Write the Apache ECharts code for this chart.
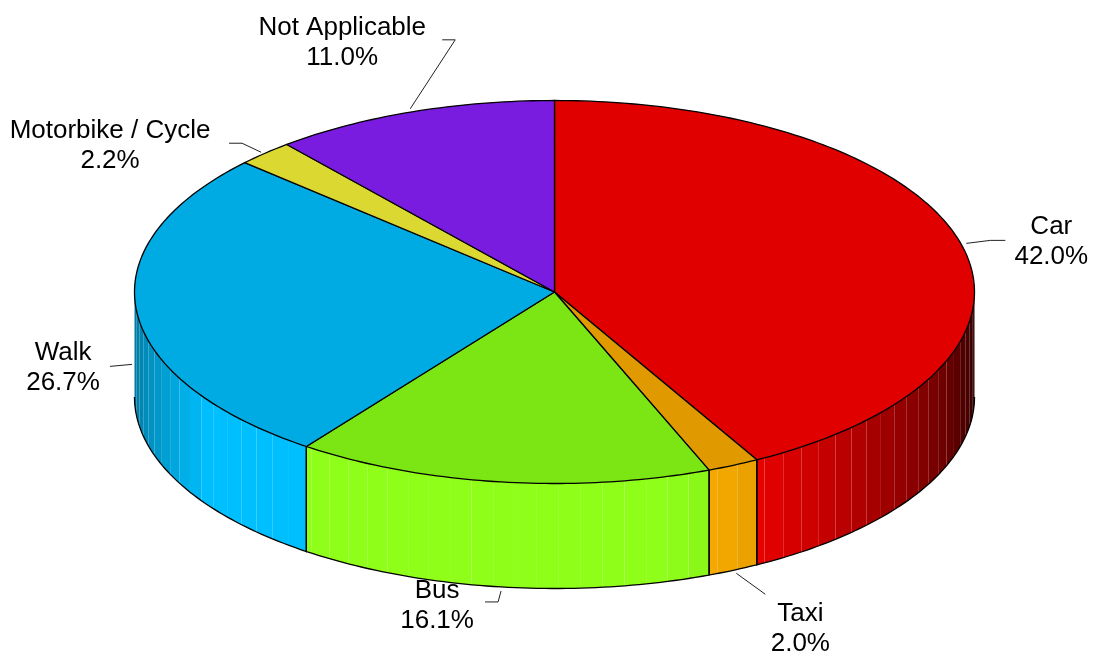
<!DOCTYPE html>
<html>
<head>
<meta charset="utf-8">
<style>html,body{margin:0;padding:0;background:#fff}#c{width:1096px;height:657px}</style>
<script src="https://cdn.jsdelivr.net/npm/echarts@6/dist/echarts.min.js"></script>
</head>
<body>
<div id="c"></div>
<script>
// ---- data ----
const categories = ['Car', 'Taxi', 'Bus', 'Walk', 'Motorbike / Cycle', 'Not Applicable'];
const shares = [42.0, 2.0, 16.06, 26.74, 2.2, 11.0];

// ---- styles ----
const topColors = ['#E00000', '#E09A00', '#7CE614', '#00ABE3', '#DCD832', '#7A1BE0'];
const rimColors = [[255, 0, 0], [255, 176, 0], [143, 255, 26], [0, 191, 255], [255, 250, 58], [140, 31, 255]];
// Brightness of the rim by ellipse angle (degrees clockwise from the top)
const shadeStops = [[90, .15], [150, .9], [155, .94], [165, 1], [235, 1], [250, .8], [270, .6]];

// ---- geometry of the tilted disc ----
const CX = 554.5, CY = 292, RX = 420, RY = 191.5, DEPTH = 105, STRIP = 3;
const FONT = 'Liberation Sans, Arial, sans-serif';

// Label layout per slice: where on the disc the leader anchors (0 = top face, 1 = bottom of rim);
// leader points and label centre are offsets from that anchor.
const leaderLayouts = [
  { drop: 0,   path: [[5, -1], [29, -4], [44, -4]],     label: [90, -2.5] },
  { drop: 1,   path: [[3, 3], [32, 24]],                label: [67, 58.5] },
  { drop: 1,   path: [[0, 4], [-3, 15], [-16, 15]],     label: [-64, 19] },
  { drop: .5,  path: [[-4.5, 1], [-26.5, 3]],           label: [-73.5, 4] },
  { drop: 0,   path: [[-4, -1], [-23, -10], [-36, -10]], label: [-155, -7] },
  { drop: 0,   path: [[-2, -3], [43, -72], [30, -72]],  label: [-70, -69] }
];

const px = (deg) => CX + RX * Math.sin(deg * Math.PI / 180);
const py = (deg, drop) => CY - RY * Math.cos(deg * Math.PI / 180) + drop * DEPTH;

function arc(a, b, drop) {
  const pts = [];
  const n = Math.max(1, Math.ceil(Math.abs(b - a)));
  for (let i = 0; i <= n; i++) {
    const t = a + (b - a) * i / n;
    pts.push([px(t), py(t, drop)]);
  }
  return pts;
}

function shade(deg) {
  for (let i = 1; i < shadeStops.length; i++) {
    const [a, va] = shadeStops[i - 1], [b, vb] = shadeStops[i];
    if (deg <= b) return va + (vb - va) * (deg - a) / (b - a);
  }
  return shadeStops[shadeStops.length - 1][1];
}

const total = shares.reduce((s, v) => s + v, 0);
const startShare = shares.map((_, i) => shares.slice(0, i).reduce((s, v) => s + v, 0));

function renderItem(params, api) {
  const i = params.dataIndex;
  const value = api.value(0);
  const a0 = startShare[i] / total * 360;
  const a1 = a0 + value / total * 360;
  const children = [];

  // Rim: narrow flat strips, stepped from the start of the slice, only on the front half.
  const lo = Math.max(a0, 90), hi = Math.min(a1, 270);
  if (lo < hi) {
    const rgb = rimColors[i];
    for (let k = 0; a0 + k * STRIP < hi; k++) {
      const s = Math.max(a0 + k * STRIP, lo);
      const e = Math.min(a0 + (k + 1) * STRIP, hi);
      if (e <= s) continue;
      const b = shade((s + e) / 2);
      const fill = `rgb(${rgb.map(c => Math.round(c * b)).join(',')})`;
      children.push({
        type: 'polygon', z2: 1, silent: true,
        shape: { points: arc(s, e, 0).concat(arc(e, s, 1)) },
        style: { fill: fill, stroke: null }
      });
    }
    const outline = [];
    if (lo === a0) outline.push([px(lo), py(lo, 0)]);
    outline.push(...arc(lo, hi, 1));
    if (hi === a1) outline.push([px(hi), py(hi, 0)]);
    children.push({
      type: 'polyline', z2: 2, silent: true,
      shape: { points: outline },
      style: { fill: null, stroke: '#000', lineWidth: 1.3 }
    });
  }

  // Top face
  children.push({
    type: 'polygon', z2: 3, silent: true,
    shape: { points: [[CX, CY]].concat(arc(a0, a1, 0)) },
    style: { fill: topColors[i], stroke: '#000', lineWidth: 1.3, lineJoin: 'round' }
  });

  // Leader and label (label sits behind the disc)
  const layout = leaderLayouts[i];
  const mid = (a0 + a1) / 2;
  const sx = px(mid), sy = py(mid, layout.drop);
  children.push({
    type: 'polyline', z2: 0, silent: true,
    shape: { points: layout.path.map(p => [sx + p[0], sy + p[1]]) },
    style: { fill: null, stroke: '#222', lineWidth: 1 }
  });
  children.push({
    type: 'text', z2: 0, silent: true,
    x: sx + layout.label[0], y: sy + layout.label[1],
    style: {
      text: categories[i] + '\n' + value.toFixed(1) + '%',
      font: '26px ' + FONT, lineHeight: 30,
      fill: '#000', align: 'center', verticalAlign: 'middle'
    }
  });

  return { type: 'group', children: children };
}

const chart = echarts.init(document.getElementById('c'), null, { renderer: 'canvas' });
chart.setOption({
  backgroundColor: '#fff',
  animation: false,
  series: [{
    type: 'custom',
    coordinateSystem: 'none',
    renderItem: renderItem,
    data: shares
  }]
});
</script>
</body>
</html>
